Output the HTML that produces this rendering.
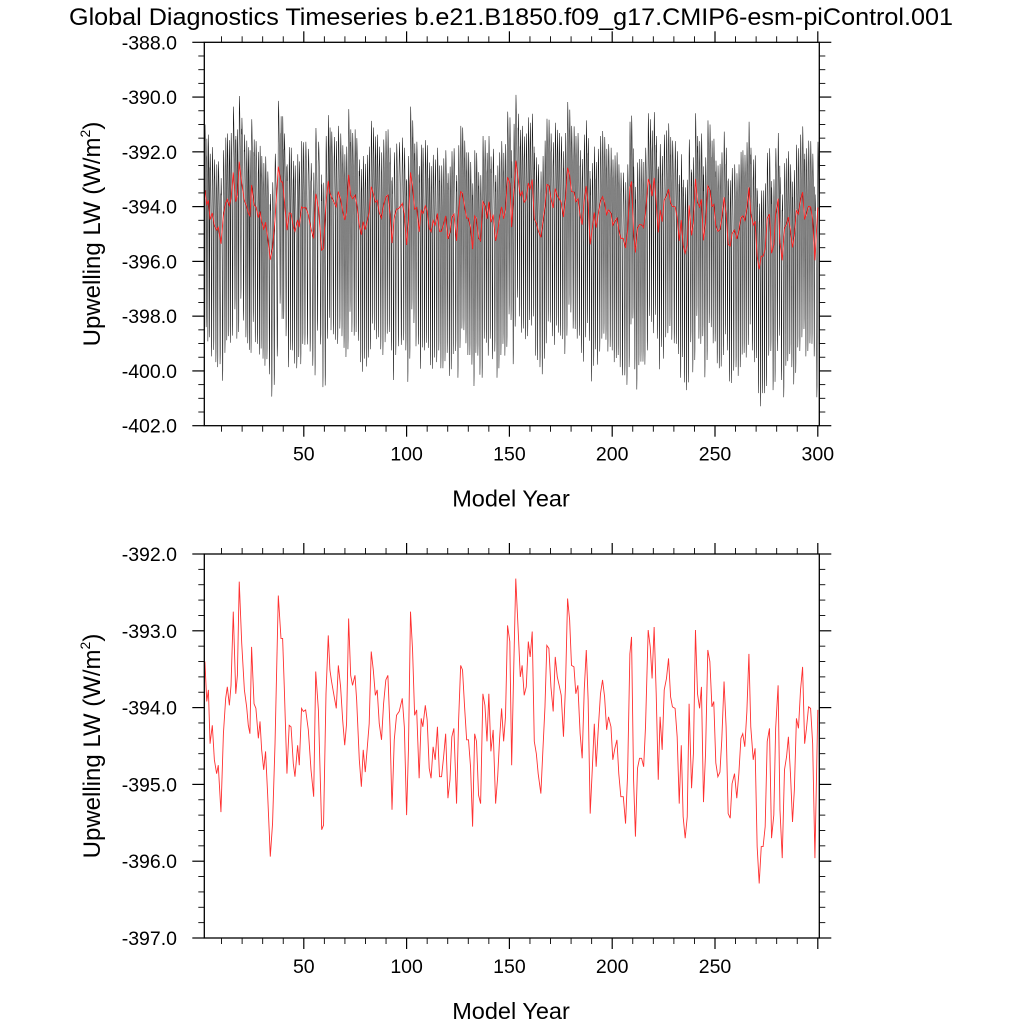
<!DOCTYPE html>
<html><head><meta charset="utf-8"><style>
html,body{margin:0;padding:0;background:#fff;}
svg{display:block;font-family:"Liberation Sans",Arial,sans-serif;}
</style></head><body>
<svg id="chart" width="1024" height="1024" viewBox="0 0 1024 1024" xmlns="http://www.w3.org/2000/svg">
<rect width="1024" height="1024" fill="#fff"/>
<text x="511" y="25" font-size="24" text-anchor="middle" textLength="884" lengthAdjust="spacingAndGlyphs">Global Diagnostics Timeseries b.e21.B1850.f09_g17.CMIP6-esm-piControl.001</text>
<g id="top"></g>
<g id="bot"></g>
</svg>
<script>
// annual-mean series (model year, W/m^2)
const years = [1.9,2.8,3.6,4.4,5.5,6.5,7.6,8.4,9.7,10.9,12.0,12.8,13.8,14.6,15.7,16.9,17.7,18.6,19.8,21.1,22.2,23.0,23.8,24.6,25.8,26.7,27.9,28.7,29.5,30.5,31.4,32.4,33.7,34.8,36.0,37.6,38.9,39.7,40.5,41.8,42.9,43.8,44.9,45.7,47.0,47.8,48.9,49.8,50.9,52.2,53.5,54.8,55.8,57.1,58.7,59.6,60.8,61.9,62.7,63.5,64.8,65.8,66.8,67.9,68.9,69.9,70.8,71.8,72.8,73.7,74.9,
75.7,77.0,78.0,78.9,79.9,80.9,81.8,82.8,83.8,84.8,85.7,86.7,87.8,88.8,89.9,90.9,91.9,92.9,94.0,95.1,96.4,97.9,98.9,100.0,100.9,101.9,102.9,103.9,104.9,106.1,107.1,107.9,109.1,110.0,111.0,111.9,112.9,113.9,115.0,116.0,117.0,118.0,119.0,120.1,121.1,122.0,123.0,124.3,125.3,126.3,127.2,128.2,129.2,130.1,131.1,132.1,133.1,134.0,135.0,136.0,137.1,138.1,139.1,140.0,141.0,142.1,143.3,144.3,145.2,146.2,147.2,148.1,149.1,150.2,
151.1,152.2,153.1,154.3,155.3,156.2,157.2,158.2,159.2,160.1,161.1,162.1,163.1,164.0,165.3,166.3,167.3,168.2,169.2,170.2,171.3,172.3,173.3,174.2,175.2,176.3,177.3,178.3,179.3,180.2,181.4,182.3,183.3,184.4,185.4,186.4,187.4,188.3,189.3,190.3,191.3,192.2,193.2,194.3,195.3,196.3,197.3,198.2,199.4,200.3,201.3,202.3,203.2,204.2,205.4,206.5,207.5,208.6,209.4,210.4,211.3,212.3,213.3,214.3,215.3,216.2,217.5,218.5,219.4,220.4,221.4,222.4,223.3,224.3,225.3,
226.4,227.4,228.4,229.3,230.6,231.6,232.6,233.6,234.5,235.5,236.5,237.4,238.6,239.5,240.5,241.5,242.5,243.4,244.4,245.4,246.5,247.5,248.5,249.4,250.4,251.4,252.4,253.3,254.4,255.4,256.4,257.4,258.3,259.5,260.6,261.6,262.6,263.5,264.5,265.5,266.5,267.4,268.6,269.5,270.5,271.5,272.5,273.4,274.4,275.4,276.5,277.5,278.6,279.5,280.7,281.6,282.7,283.8,284.8,285.7,286.7,287.7,288.6,289.6,290.6,291.6,292.6,293.6,294.5,295.5,296.5,297.5,298.6,300.0];
const annual = [-393.40,-393.92,-393.77,-394.47,-394.23,-394.68,-394.86,-394.75,-395.36,-394.34,-393.88,-393.73,-393.97,-393.71,-392.75,-393.82,-393.58,-392.36,-393.16,-393.77,-393.99,-394.23,-394.34,-393.21,-393.95,-394.01,-394.40,-394.18,-394.55,-394.81,-394.57,-395.12,-395.94,-395.51,-394.47,-392.54,-393.10,-393.10,-393.73,-394.86,-394.23,-394.25,-394.73,-394.90,-394.49,-394.75,-394.01,-394.05,-394.03,-394.29,-394.81,-395.16,-393.53,-394.03,-395.59,-395.53,-393.82,-393.06,-393.51,-393.66,-393.86,-394.01,-393.45,-393.73,-394.16,-394.49,-394.21,-392.84,-393.58,-393.71,-393.58,
-393.90,-394.68,-395.03,-394.55,-394.84,-394.51,-394.21,-393.27,-393.51,-393.84,-393.77,-394.21,-394.42,-393.95,-393.64,-393.58,-394.25,-395.33,-394.42,-394.10,-394.05,-393.88,-394.25,-395.40,-394.55,-392.75,-393.25,-394.10,-394.03,-394.92,-394.14,-394.25,-393.97,-394.16,-394.79,-394.92,-394.51,-394.68,-394.25,-394.90,-394.90,-394.64,-394.34,-395.18,-394.94,-394.38,-394.27,-395.25,-394.16,-393.45,-393.51,-393.99,-394.42,-394.42,-394.77,-395.55,-394.34,-394.44,-395.14,-395.25,-393.82,-393.97,-394.44,-393.82,-394.57,-394.29,-395.25,-394.90,-394.42,-394.01,-394.44,-394.12,-392.93,-393.14,
-394.75,-393.38,-392.32,-393.01,-393.60,-393.45,-393.84,-393.73,-393.14,-393.34,-393.01,-394.44,-394.60,-394.86,-395.12,-394.55,-393.99,-393.19,-393.23,-393.73,-394.05,-393.34,-393.60,-393.71,-393.84,-394.38,-393.71,-392.58,-392.86,-393.45,-393.47,-393.82,-393.71,-394.34,-394.66,-393.77,-393.25,-393.90,-395.38,-394.81,-394.21,-394.77,-394.29,-393.82,-393.64,-393.86,-394.29,-394.12,-394.25,-394.68,-394.53,-394.42,-394.86,-395.16,-395.16,-395.51,-394.86,-393.30,-393.08,-394.94,-395.68,-394.79,-394.66,-394.66,-394.77,-394.25,-392.99,-393.21,-393.62,-392.95,-393.82,-394.94,-394.12,-394.55,-393.77,
-393.62,-393.36,-393.86,-393.99,-394.01,-394.38,-395.25,-394.49,-395.42,-395.70,-395.42,-393.95,-395.05,-394.60,-392.99,-393.82,-394.01,-393.73,-395.23,-394.60,-393.25,-393.40,-393.99,-393.92,-394.72,-394.90,-394.84,-394.42,-393.66,-394.25,-395.38,-395.44,-394.99,-394.86,-395.18,-394.86,-394.40,-394.34,-394.51,-394.05,-393.30,-394.25,-394.68,-394.53,-395.81,-396.29,-395.81,-395.81,-395.55,-394.44,-394.27,-395.70,-395.40,-394.27,-393.71,-395.33,-395.96,-394.81,-394.64,-394.38,-394.86,-395.49,-395.07,-394.14,-394.27,-393.77,-393.47,-394.47,-394.27,-393.99,-394.01,-394.47,-395.96,-394.03];
// monthly climatological anomaly (W/m^2) added to annual means for the monthly series
const climatology = [1.8,2.4,2.1,1.6,1.0,0.4,-0.6,-3.0,-5.0,-4.6,-1.5,1.2];
const topTicks = [-388,-390,-392,-394,-396,-398,-400,-402];
const botTicks = [-392,-393,-394,-395,-396,-397];
const xTicksTop = [50,100,150,200,250,300];
const xTicksBot = [50,100,150,200,250];

const NS="http://www.w3.org/2000/svg";
function mk(parent,tag,attrs){const e=document.createElementNS(NS,tag);for(const k in attrs)e.setAttribute(k,attrs[k]);parent.appendChild(e);return e;}
const L=204.3,R=819.3;
const xs=y=>201+(y)*2.056;

function panel(g,T,B,vmax,vmin,yt,minorStep,xt){
  const ys=v=>T+(vmax-v)/(vmax-vmin)*(B-T);
  for(let yr=10;yr<=300;yr+=10){
    const x=xs(yr); if(x>R+0.5) continue;
    const major=yr%50===0, len=major?11:6;
    const t1=mk(g,'line',{x1:x,x2:x,y1:B,y2:B+len,stroke:'#000','stroke-width':major?1.2:0.9});
    
    const t2=mk(g,'line',{x1:x,x2:x,y1:T,y2:T-len,stroke:'#000','stroke-width':major?1.2:0.9});
    
  }
  const nMinor=Math.round((vmax-vmin)/minorStep);
  for(let i=0;i<=nMinor;i++){
    const v=vmax-i*minorStep, y=ys(v);
    const major=yt.some(t=>Math.abs(t-v)<1e-6), len=major?12:6;
    const a=mk(g,'line',{x1:L,x2:L-len,y1:y,y2:y,stroke:'#000','stroke-width':major?1.2:0.9});
    
    const b=mk(g,'line',{x1:R,x2:R+len,y1:y,y2:y,stroke:'#000','stroke-width':major?1.2:0.9});
    
  }
  yt.forEach(v=>{
    const t=mk(g,'text',{x:177,y:ys(v)+7,'font-size':19.5,'text-anchor':'end'});
    t.textContent=v.toFixed(1);
    
  });
  xt.forEach(v=>{
    const t=mk(g,'text',{x:xs(v),y:B+35,'font-size':19.5,'text-anchor':'middle'});
    t.textContent=String(v);
    
  });
  const xl=mk(g,'text',{x:511,y:B+81,'font-size':23.5,'text-anchor':'middle'});
  xl.textContent='Model Year';
  
  const cy=(T+B)/2;
  const yl=mk(g,'text',{x:0,y:0,'font-size':24,'text-anchor':'middle',transform:`translate(100,${cy}) rotate(-90)`});
  yl.innerHTML='Upwelling LW (W/m<tspan dy="-10" font-size="14">2</tspan><tspan dy="10">)</tspan>';
  
  return ys;
}

function clip(g,id,T,B){
  const d=mk(g,'clipPath',{id:id});mk(d,'rect',{x:L,y:T,width:R-L,height:B-T});
}

// ---- top panel
const gt=document.getElementById('top');
const ysT=panel(gt,42.3,425.7,-388,-402,topTicks,0.5,xTicksTop);
clip(gt,'ct',42.3,425.7);
let pts=[];
for(let i=0;i<years.length;i++){
  const y0=years[i], y1=(i+1<years.length)?years[i+1]:years[i]+1;
  for(let m=0;m<12;m++){
    const t=y0+(y1-y0)*m/12;
    pts.push(xs(t).toFixed(2)+','+ysT(annual[i]+climatology[m]).toFixed(2));
  }
}
const mon=mk(gt,'polyline',{points:pts.join(' '),fill:'none',stroke:'#1a1a1a','stroke-width':0.55,'clip-path':'url(#ct)'});

const redT=mk(gt,'polyline',{points:years.map((y,i)=>xs(y).toFixed(2)+','+ysT(annual[i]).toFixed(2)).join(' '),fill:'none',stroke:'#ff2020','stroke-width':0.9,'clip-path':'url(#ct)'});

const fT=mk(gt,'rect',{x:L,y:42.3,width:R-L,height:425.7-42.3,fill:'none',stroke:'#000','stroke-width':1.3});


// ---- bottom panel
const gb=document.getElementById('bot');
const ysB=panel(gb,554,938,-392,-397,botTicks,0.2,xTicksBot);
clip(gb,'cb',554,938);
const redB=mk(gb,'polyline',{points:years.map((y,i)=>xs(y).toFixed(2)+','+ysB(annual[i]).toFixed(2)).join(' '),fill:'none',stroke:'#ff3030','stroke-width':0.9,'clip-path':'url(#cb)'});

const fB=mk(gb,'rect',{x:L,y:554,width:R-L,height:938-554,fill:'none',stroke:'#000','stroke-width':1.3});

</script>
</body></html>
